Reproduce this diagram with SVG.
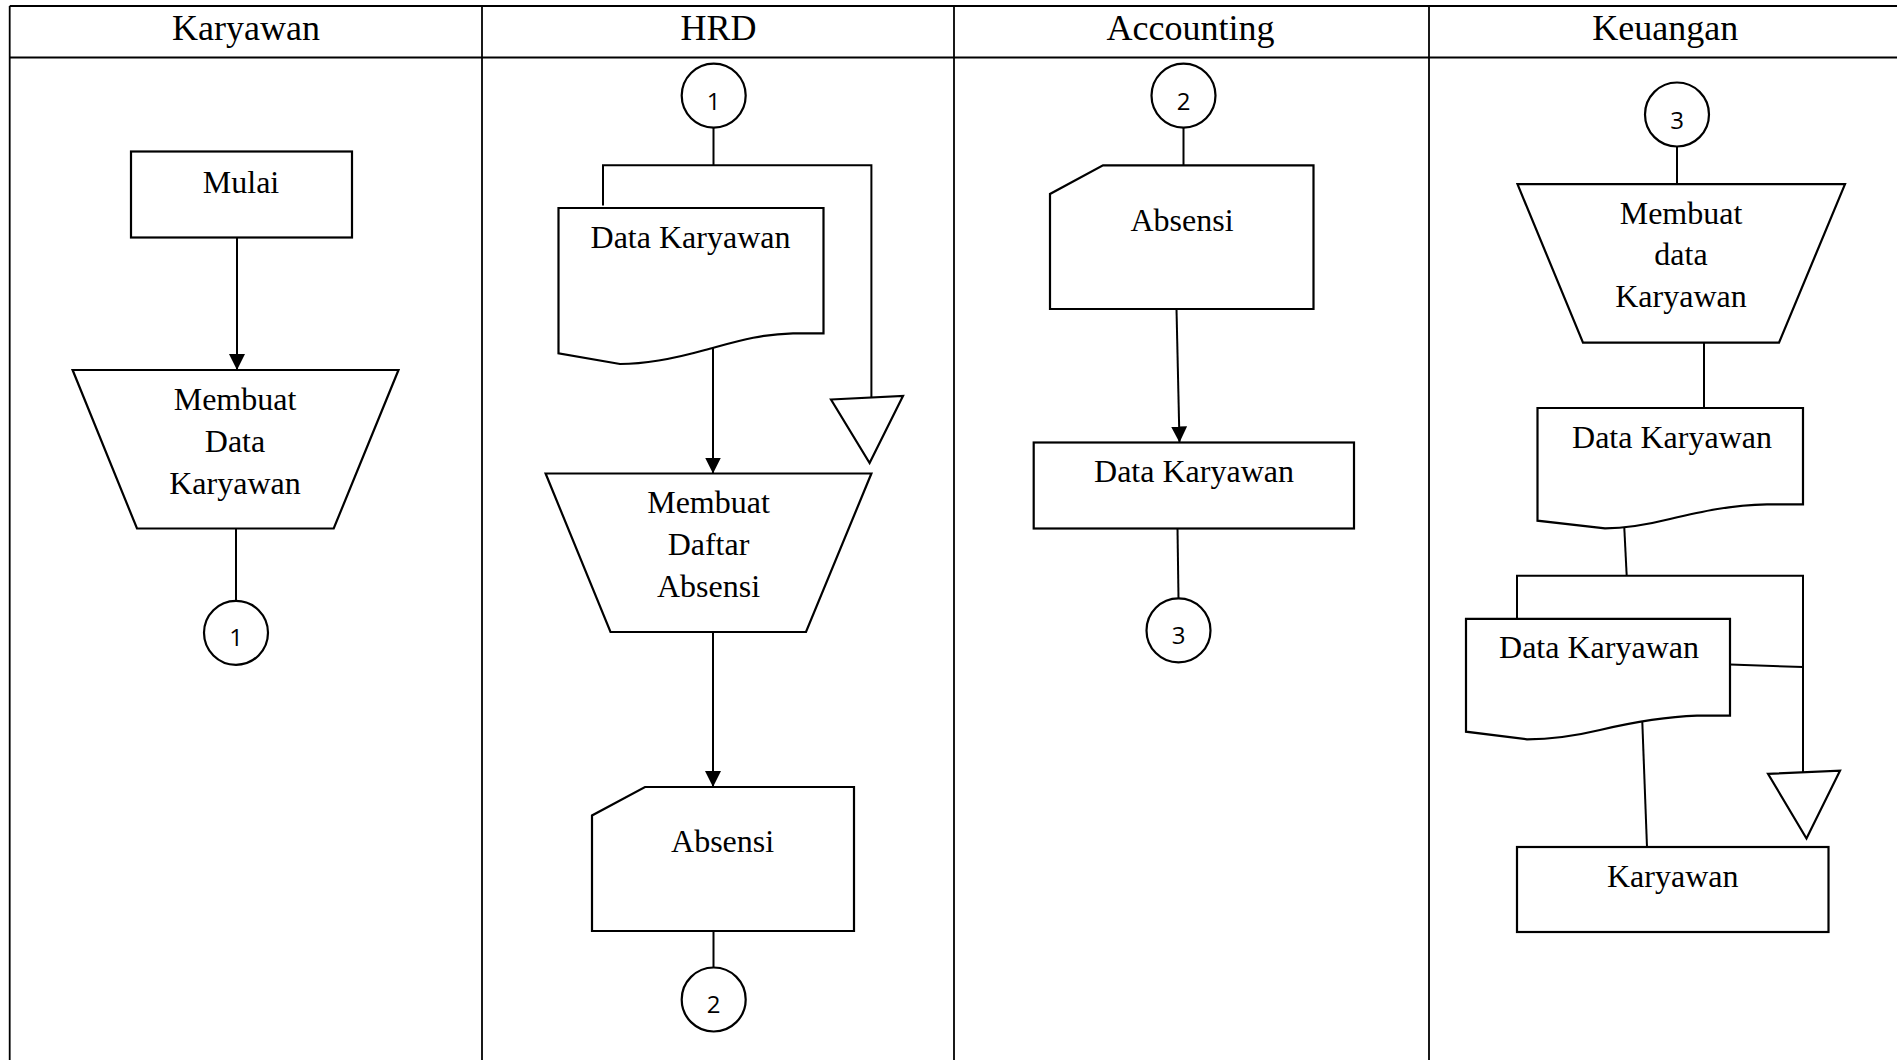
<svg xmlns="http://www.w3.org/2000/svg" width="1897" height="1060" viewBox="0 0 1897 1060">
<style>
.tbl{stroke:#000;stroke-width:1.8;fill:none}
.sh{fill:#fff;stroke:#000;stroke-width:2.2}
.ln{stroke:#000;stroke-width:2;fill:none}
.hd{font-family:"Liberation Serif","Times New Roman",serif;font-size:36px;text-anchor:middle;fill:#000}
.tx{font-family:"Liberation Serif","Times New Roman",serif;font-size:32px;text-anchor:middle;fill:#000}
.num{font-family:"Open Sans","Liberation Sans",sans-serif;font-size:24px;text-anchor:middle;fill:#000}
</style>
<defs>
<marker id="ah" markerWidth="16" markerHeight="16" refX="16" refY="8" orient="auto" markerUnits="userSpaceOnUse" viewBox="0 0 16 16">
<path d="M0,0 L16,8 L0,16 Z" fill="#000"/>
</marker>
</defs>
<rect width="1897" height="1060" fill="#fff"/>
<g id="table">
<line class="tbl" x1="9.7" y1="6" x2="1897" y2="6"/>
<line class="tbl" x1="9.7" y1="57.5" x2="1897" y2="57.5"/>
<line class="tbl" x1="9.7" y1="6" x2="9.7" y2="1060"/>
<line class="tbl" x1="482" y1="6" x2="482" y2="1060"/>
<line class="tbl" x1="954" y1="6" x2="954" y2="1060"/>
<line class="tbl" x1="1429" y1="6" x2="1429" y2="1060"/>
<text class="hd" x="246" y="40">Karyawan</text>
<text class="hd" x="718.6" y="40">HRD</text>
<text class="hd" x="1190.5" y="40">Accounting</text>
<text class="hd" x="1665.3" y="40">Keuangan</text>
</g>
<g id="connectors">
<line class="ln" x1="237" y1="237.6" x2="237" y2="370" marker-end="url(#ah)"/>
<line class="ln" x1="236" y1="528.5" x2="236" y2="601"/>
<line class="ln" x1="713.5" y1="127.6" x2="713.5" y2="165.3"/>
<polyline class="ln" points="603,205.6 603,165.3 871.4,165.3 871.4,397.5"/>
<line class="ln" x1="713" y1="341.5" x2="713" y2="473.5" marker-end="url(#ah)"/>
<line class="ln" x1="713" y1="632" x2="713" y2="787" marker-end="url(#ah)"/>
<line class="ln" x1="713.5" y1="931" x2="713.5" y2="967.5"/>
<line class="ln" x1="1183.5" y1="127.6" x2="1183.5" y2="165.3"/>
<line class="ln" x1="1176.5" y1="309" x2="1179.5" y2="442.5" marker-end="url(#ah)"/>
<line class="ln" x1="1177.5" y1="528.6" x2="1178.5" y2="598.5"/>
<line class="ln" x1="1677" y1="146.5" x2="1677" y2="184.2"/>
<line class="ln" x1="1704" y1="342.6" x2="1704" y2="408"/>
<line class="ln" x1="1624.3" y1="528" x2="1626.7" y2="575.7"/>
<polyline class="ln" points="1517,618.8 1517,575.7 1803,575.7 1803,772"/>
<line class="ln" x1="1730" y1="664.6" x2="1803" y2="667"/>
<line class="ln" x1="1642.3" y1="722" x2="1647" y2="847"/>
</g>
<g id="k-mulai">
<rect class="sh" x="131" y="151.5" width="221" height="86"/>
<text class="tx" x="241" y="193">Mulai</text>
</g>
<g id="k-membuat">
<path class="sh" d="M72.6,370 H398.5 L333.7,528.5 H137 Z"/>
<text class="tx" x="235" y="410">Membuat</text>
<text class="tx" x="235" y="452">Data</text>
<text class="tx" x="235" y="494">Karyawan</text>
</g>
<g id="k-c1">
<circle class="sh" cx="236" cy="632.8" r="32"/>
<text class="num" x="236" y="646">1</text>
</g>
<g id="h-c1">
<circle class="sh" cx="713.7" cy="95.6" r="32"/>
<text class="num" x="713.7" y="109.5">1</text>
</g>
<g id="h-doc">
<path class="sh" d="M558.5,208 H823.5 V333.3 H793 C760,334 735,342 705,350 C680,357 650,364 620,364 L558.5,353.3 Z"/>
<text class="tx" x="690.5" y="248">Data Karyawan</text>
</g>
<g id="h-tri">
<path class="sh" d="M831,399.5 L903,396 L869.6,463 Z"/>
</g>
<g id="h-membuat">
<path class="sh" d="M545.6,473.5 H871.4 L806,632 H610.5 Z"/>
<text class="tx" x="708.5" y="513">Membuat</text>
<text class="tx" x="708.5" y="555">Daftar</text>
<text class="tx" x="708.5" y="597">Absensi</text>
</g>
<g id="h-absensi">
<path class="sh" d="M645,787 H854 V931 H592 V815.5 Z"/>
<text class="tx" x="722.6" y="852">Absensi</text>
</g>
<g id="h-c2">
<circle class="sh" cx="713.7" cy="999.5" r="32"/>
<text class="num" x="713.7" y="1013">2</text>
</g>
<g id="a-c2">
<circle class="sh" cx="1183.5" cy="95.6" r="32"/>
<text class="num" x="1183.5" y="109.5">2</text>
</g>
<g id="a-absensi">
<path class="sh" d="M1103,165.3 H1313.5 V309 H1050 V194 Z"/>
<text class="tx" x="1182" y="230.7">Absensi</text>
</g>
<g id="a-data">
<rect class="sh" x="1033.7" y="442.5" width="320.3" height="86"/>
<text class="tx" x="1194" y="482">Data Karyawan</text>
</g>
<g id="a-c3">
<circle class="sh" cx="1178.5" cy="630.4" r="32"/>
<text class="num" x="1178.5" y="644">3</text>
</g>
<g id="u-c3">
<circle class="sh" cx="1677" cy="114.5" r="32"/>
<text class="num" x="1677" y="128.5">3</text>
</g>
<g id="u-membuat">
<path class="sh" d="M1517.5,184.2 H1845 L1779,342.6 H1583 Z"/>
<text class="tx" x="1681" y="224">Membuat</text>
<text class="tx" x="1681" y="265">data</text>
<text class="tx" x="1681" y="306.5">Karyawan</text>
</g>
<g id="u-doc1">
<path class="sh" d="M1537.5,408 H1803 V504.3 H1767 C1730,505 1700,512 1670,519 C1650,524 1630,528.3 1605,528.3 L1537.5,520.7 Z"/>
<text class="tx" x="1672" y="447.7">Data Karyawan</text>
</g>
<g id="u-doc2">
<path class="sh" d="M1466,618.8 H1730 V715.7 H1697 C1660,717 1630,723 1600,730 C1575,736 1555,739.3 1527,739.3 L1466,731.7 Z"/>
<text class="tx" x="1599" y="657.7">Data Karyawan</text>
</g>
<g id="u-tri">
<path class="sh" d="M1768,773.8 L1840,770.7 L1806.5,838.5 Z"/>
</g>
<g id="u-karyawan">
<rect class="sh" x="1517" y="847" width="311.5" height="85"/>
<text class="tx" x="1672.7" y="886.7">Karyawan</text>
</g>
</svg>
